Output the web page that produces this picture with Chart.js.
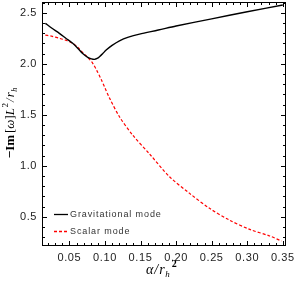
<!DOCTYPE html>
<html><head><meta charset="utf-8">
<script src="https://cdn.jsdelivr.net/npm/chart.js@4"></script>
<style>html,body{margin:0;padding:0;background:#fff}#wrap{width:296px;height:284px}</style>
</head><body><div id="wrap"><canvas id="c"></canvas></div>
<script>
const gravX = [0.0162, 0.025, 0.0359, 0.045, 0.0546, 0.062, 0.0687, 0.0758, 0.081, 0.0852, 0.089, 0.0923, 0.097, 0.1017, 0.11, 0.1204, 0.133, 0.1486, 0.175, 0.2, 0.25, 0.3, 0.35];
const gravY = [2.396, 2.35, 2.298, 2.25, 2.20, 2.15, 2.10, 2.063, 2.048, 2.043, 2.052, 2.069, 2.10, 2.134, 2.18, 2.225, 2.26, 2.29, 2.33, 2.37, 2.44, 2.51, 2.575];
const scalX = [0.0162, 0.025, 0.0359, 0.045, 0.0546, 0.062, 0.0687, 0.076, 0.0828, 0.0888, 0.0946, 0.1005, 0.1063, 0.1204, 0.139, 0.1627, 0.1908, 0.219, 0.247, 0.275, 0.3035, 0.3317, 0.348];
const scalY = [2.28, 2.27, 2.249, 2.23, 2.20, 2.16, 2.11, 2.06, 2.004, 1.93, 1.847, 1.755, 1.665, 1.48, 1.30, 1.115, 0.892, 0.729, 0.582, 0.467, 0.376, 0.311, 0.262];
const xTicks = [0.05, 0.10, 0.15, 0.20, 0.25, 0.30, 0.35];
const yTicks = [0.5, 1.0, 1.5, 2.0, 2.5];
const seriesNames = ['Gravitational mode', 'Scalar mode'];

const pts = (xs, ys) => xs.map((x, i) => ({x, y: ys[i]}));

const framePlugin = {
  id: 'frame',
  beforeDraw(chart) { chart.ctx.letterSpacing = '0.6px'; },
  afterDraw(chart) {
    const ctx = chart.ctx, a = chart.chartArea, xs = chart.scales.x, ys = chart.scales.y;
    ctx.save();
    ctx.letterSpacing = '0px';
    ctx.setLineDash([]);
    ctx.fillStyle = '#000';
    const L0 = Math.round(a.left), R0 = Math.round(a.right) - 1, T0 = Math.round(a.top), B0 = Math.round(a.bottom) - 1;
    ctx.fillRect(L0, T0, R0 - L0 + 1, 1);
    ctx.fillRect(L0, B0, R0 - L0 + 1, 1);
    ctx.fillRect(L0, T0, 1, B0 - T0 + 1);
    ctx.fillRect(R0, T0, 1, B0 - T0 + 1);
    for (let i = 1; i <= 35; i++) {
      const px = Math.round(xs.getPixelForValue(i / 100));
      if (px < L0 || px > R0) continue;
      const L = (i % 5 === 0) ? 5 : 3;
      ctx.fillRect(px, B0 - L + 1, 1, L);
      ctx.fillRect(px, T0, 1, L);
    }
    for (let i = 3; i <= 26; i++) {
      const py = Math.round(ys.getPixelForValue(i / 10));
      if (py < T0 || py > B0) continue;
      const L = (i % 5 === 0) ? 5 : 3;
      ctx.fillRect(L0, py, L, 1);
      ctx.fillRect(R0 - L + 1, py, L, 1);
    }
    // legend
    const lx = 54, ly = [214, 231];
    const styles = [{c:'#000', d:[]}, {c:'#f00', d:[3,2]}];
    ctx.font = '9px "Liberation Sans", Arial, sans-serif';
    ctx.letterSpacing = '0.9px';
    ctx.textBaseline = 'middle'; ctx.textAlign = 'left';
    seriesNames.forEach((n, i) => {
      ctx.strokeStyle = styles[i].c; ctx.setLineDash(styles[i].d); ctx.lineWidth = 1.3;
      ctx.beginPath(); ctx.moveTo(lx, ly[i] + 0.5); ctx.lineTo(lx + 14, ly[i] + 0.5); ctx.stroke();
      ctx.fillStyle = '#333'; ctx.fillText(n, lx + 16, ly[i] + 1);
    });
    ctx.setLineDash([]);
    ctx.letterSpacing = '0px';
    // x title
    ctx.fillStyle = '#000';
    const ty = 274;
    const parts = [
      {t:'α', f:'italic 14px "Liberation Serif", serif', dy:0},
      {t:'/', f:'italic 14px "Liberation Serif", serif', dy:0},
      {t:'r', f:'italic 14px "Liberation Serif", serif', dy:0},
      {t:'h', f:'italic 9px "Liberation Serif", serif', dy:3},
      {t:'2', f:'bold 10px "Liberation Serif", serif', dy:-7}
    ];
    parts.forEach(p => { ctx.font = p.f; p.w = ctx.measureText(p.t).width; });
    let x = 146;
    ctx.textBaseline = 'alphabetic';
    const adv = [parts[0].w + 1, parts[1].w + 1, parts[2].w + 0.5, parts[3].w + 2, 0];
    parts.forEach((p, i) => { ctx.font = p.f; ctx.fillText(p.t, x, ty + p.dy); x += adv[i]; });
    // y title rotated
    ctx.save();
    ctx.translate(14, 123);
    ctx.rotate(-Math.PI / 2);
    const yp = [
      {t:'−Im', f:'bold 13px "Liberation Serif", serif', dy:0, g:2},
      {t:'[', f:'13px "Liberation Serif", serif', dy:0, g:0},
      {t:'ω', f:'italic 13px "Liberation Serif", serif', dy:0, g:0},
      {t:']', f:'13px "Liberation Serif", serif', dy:0, g:0},
      {t:'L', f:'italic 13px "Liberation Serif", serif', dy:0, g:0.5},
      {t:'2', f:'9px "Liberation Serif", serif', dy:-6, g:1},
      {t:'/', f:'italic 13px "Liberation Serif", serif', dy:0, g:1},
      {t:'r', f:'italic 13px "Liberation Serif", serif', dy:0, g:0.5},
      {t:'h', f:'italic 8px "Liberation Serif", serif', dy:3, g:0}
    ];
    let tw = 0; yp.forEach(p => { ctx.font = p.f; p.w = ctx.measureText(p.t).width; tw += p.w + p.g; });
    let yx = -tw / 2;
    yp.forEach(p => { ctx.font = p.f; ctx.fillText(p.t, yx, 0 + p.dy); yx += p.w + p.g; });
    ctx.restore();
    ctx.restore();
  }
};

new Chart(document.getElementById('c'), {
  type: 'line',
  data: {
    datasets: [
      {label: seriesNames[0], data: pts(gravX, gravY), borderColor: '#000', borderWidth: 1.4, pointRadius: 0, tension: 0.3, fill: false},
      {label: seriesNames[1], data: pts(scalX, scalY), borderColor: '#f00', borderWidth: 1.2, borderDash: [3, 2], pointRadius: 0, tension: 0.3, fill: false}
    ]
  },
  options: {
    responsive: true, maintainAspectRatio: false, animation: false, devicePixelRatio: 1,
    layout: {padding: {left: 0, top: 2, right: 10, bottom: 0}},
    plugins: {legend: {display: false}, tooltip: {enabled: false}},
    scales: {
      x: {type: 'linear', min: 0.0115, max: 0.3545,
        afterFit(s) { s.height = 38; s.paddingLeft = 0; s.paddingRight = 0; },
        afterBuildTicks(s) { s.ticks = xTicks.map(v => ({value: v})); },
        grid: {display: false, drawTicks: false}, border: {display: false},
        ticks: {padding: 5, color: '#222', font: {size: 11, family: '"Liberation Sans", Arial, sans-serif'}, maxRotation: 0, autoSkip: false, callback: v => v.toFixed(2)}},
      y: {type: 'linear', min: 0.213, max: 2.605,
        afterFit(s) { s.width = 42; s.paddingTop = 0; s.paddingBottom = 0; },
        afterBuildTicks(s) { s.ticks = yTicks.map(v => ({value: v})); },
        grid: {display: false, drawTicks: false}, border: {display: false},
        ticks: {padding: 5, color: '#222', font: {size: 11, family: '"Liberation Sans", Arial, sans-serif'}, autoSkip: false, callback: v => v.toFixed(1)}}
    }
  },
  plugins: [framePlugin]
});
</script></body></html>
